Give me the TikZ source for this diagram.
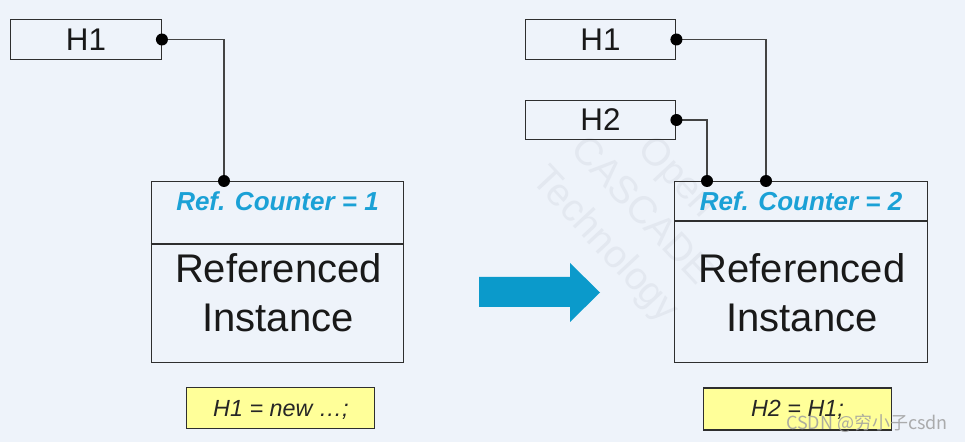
\documentclass[tikz,border=0pt]{standalone}
\usepackage{fontspec}
\setmainfont{Liberation Sans}
\newfontfamily\cjk{Noto Sans CJK SC}
\definecolor{bgc}{HTML}{EEF3FA}
\definecolor{refc}{HTML}{1BA1D6}
\definecolor{arrc}{HTML}{0B9ACB}
\definecolor{yel}{HTML}{FFFF99}
\definecolor{edge}{HTML}{2E2E2E}
\definecolor{wm}{HTML}{E3E8F0}
\tikzset{
  x=0.75pt, y=-0.75pt,
  hbox/.style={draw=edge, line width=0.9pt, minimum width=113pt, minimum height=29.5pt, inner sep=0pt, font=\fontsize{23.5}{25}\selectfont, text=black!90},
  objbox/.style={draw=edge, line width=0.9pt, minimum width=189.5pt, minimum height=136.3pt, inner sep=0pt},
  codebox/.style={draw=edge, line width=0.9pt, fill=yel, inner sep=0pt},
  reftxt/.style={anchor=base, text=refc, font=\fontsize{19.5}{21}\selectfont\bfseries\itshape, inner sep=0pt},
  bigtxt/.style={anchor=base, text=black!90, font=\fontsize{30}{32}\selectfont, inner sep=0pt},
  codetxt/.style={anchor=base, text=black!85, font=\fontsize{17.5}{19}\selectfont\itshape, inner sep=0pt},
  wire/.style={draw=edge!90, line width=0.8pt},
  dot/.style={circle, fill=black, minimum size=9pt, inner sep=0pt},
  wmtxt/.style={text=wm, font=\fontsize{29}{37}\selectfont, rotate=-47, inner sep=0pt, align=center}
}
\begin{document}
\begin{tikzpicture}
\fill[bgc] (0,0) rectangle (965,442);
\useasboundingbox (0,0) rectangle (965,442);
% faint background watermark
\node[wmtxt] (wm) at (640,212) {Open\\CASCADE\\Technology};

% ---------- left state ----------
\node[hbox] (h1L) at (86,39.5) {H1};
\node[objbox] (objL) at (277.5,272) {};
\draw[edge, line width=0.9pt] (objL.west |- 0,244) -- (objL.east |- 0,244);
\node[reftxt] (rcL) at (277.5,211) {Ref. Counter = 1};
\node[bigtxt] (r1L) at (278.5,283) {Referenced};
\node[bigtxt] (r2L) at (278,331) {Instance};
\coordinate (pL) at (224,181);
\draw[wire] (h1L.east) -| (pL);
\node[dot] (dL1) at (h1L.east) {};
\node[dot] (dL2) at (pL) {};
\node[codebox, minimum width=140.5pt, minimum height=30.5pt] (cL) at (280.5,408) {};
\node[codetxt] (cLt) at (281,416.5) {H1 = new \ldots;};

% ---------- arrow ----------
\fill[arrc] (479,277) -- (570,277) -- (570,263) -- (600,292.5) -- (570,322) -- (570,307) -- (479,307) -- cycle;

% ---------- right state ----------
\node[hbox] (h1R) at (600.5,39.5) {H1};
\node[hbox] (h2R) at (600.5,120) {H2};
\node[objbox] (objR) at (801,272) {};
\draw[edge, line width=0.9pt] (objR.west |- 0,221) -- (objR.east |- 0,221);
\node[reftxt] (rcR) at (801,211) {Ref. Counter = 2};
\node[bigtxt] (r1R) at (802,283) {Referenced};
\node[bigtxt] (r2R) at (802,331) {Instance};
\coordinate (p1) at (766,181);
\coordinate (p2) at (707,181);
\draw[wire] (h1R.east) -| (p1);
\draw[wire] (h2R.east) -| (p2);
\node[dot] (dR1) at (h1R.east) {};
\node[dot] (dR2) at (h2R.east) {};
\node[dot] (dR3) at (p1) {};
\node[dot] (dR4) at (p2) {};
\node[codebox, minimum width=141.5pt, minimum height=31.5pt] (cR) at (797.5,409) {};
\node[codetxt] (cRt) at (797.5,416.5) {H2 = H1;};

% ---------- site watermark ----------
\node[text=gray!75, opacity=0.85, font=\cjk\fontsize{13.5}{15}\selectfont, inner sep=0pt] (csdn) at (867,423) {CSDN @穷小子csdn};
\end{tikzpicture}
\end{document}
